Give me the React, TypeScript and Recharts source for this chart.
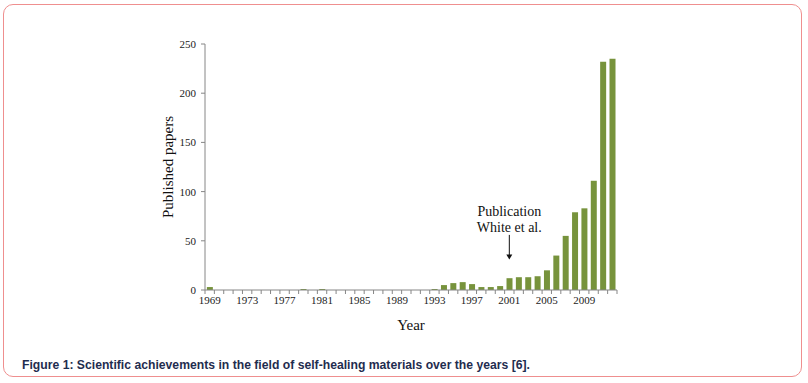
import React from "react";
import { BarChart, Bar, XAxis, YAxis, ReferenceLine } from "recharts";

const years: string[] = [
  "1969", "1970", "1971", "1972", "1973", "1974", "1975", "1976", "1977", "1978",
  "1979", "1980", "1981", "1982", "1983", "1984", "1985", "1986", "1987", "1988",
  "1989", "1990", "1991", "1992", "1993", "1994", "1995", "1996", "1997", "1998",
  "1999", "2000", "2001", "2002", "2003", "2004", "2005", "2006", "2007", "2008",
  "2009", "2010", "2011", "2012",
];

const papers: number[] = [
  3, 0, 0, 0, 0, 0, 0, 0, 0, 0,
  1, 0, 1, 0, 0, 0, 0, 0, 0, 0,
  0, 0, 0, 0, 1, 5, 7, 8, 6, 3,
  3, 4, 12, 13, 13, 14, 20, 35, 55, 79,
  83, 111, 232, 235,
];

const yTicks: number[] = [0, 50, 100, 150, 200, 250];
const labeledYears: string[] = ["1969", "1973", "1977", "1981", "1985", "1989", "1993", "1997", "2001", "2005", "2009"];

const annotationYear = "2001";
const annotationLines: string[] = ["Publication", "White et al."];
const arrowFrom = 56;
const arrowTo = 31;

const data = years.map((y, i) => ({ year: y, papers: papers[i] }));

const CHART_W = 808;
const CHART_H = 383;
const MARGIN = { top: 44, right: 191, bottom: 63, left: 165 };
const Y_AXIS_W = 40;
const PLOT_W = CHART_W - MARGIN.left - MARGIN.right - Y_AXIS_W;
const STEP = PLOT_W / years.length;

const serif = "'Liberation Serif', 'Times New Roman', serif";

const XTick = (props: any) => {
  const { x, y, payload, index } = props;
  const isLast = index === years.length - 1;
  const show = labeledYears.includes(String(payload.value));
  return (
    <g>
      <line x1={x - STEP / 2} y1={y} x2={x - STEP / 2} y2={y + 4} stroke="#868686" strokeWidth={1} />
      {isLast && <line x1={x + STEP / 2} y1={y} x2={x + STEP / 2} y2={y + 4} stroke="#868686" strokeWidth={1} />}
      {show && (
        <text x={x} y={y + 14} textAnchor="middle" fontFamily={serif} fontSize={11} fill="#222">
          {payload.value}
        </text>
      )}
    </g>
  );
};

const ArrowShape = (props: any) => {
  const { x1, y1, x2, y2 } = props;
  const x = x1;
  return (
    <g>
      <text x={x} y={y1 - 19} textAnchor="middle" fontFamily={serif} fontSize={14} fill="#111">
        {annotationLines[0]}
      </text>
      <text x={x} y={y1 - 3} textAnchor="middle" fontFamily={serif} fontSize={14} fill="#111">
        {annotationLines[1]}
      </text>
      <line x1={x} y1={y1} x2={x2} y2={y2 - 4} stroke="#111" strokeWidth={1} />
      <path d={`M${x2 - 3},${y2 - 5} L${x2 + 3},${y2 - 5} L${x2},${y2} Z`} fill="#111" />
    </g>
  );
};

export default function App() {
  return (
    <div style={{ position: "fixed", left: 0, top: 0, width: CHART_W, height: CHART_H, background: "#fff" }}>
      <div
        style={{
          position: "absolute",
          left: 3,
          top: 4,
          width: 797,
          height: 371,
          border: "1.5px solid #ef8f8f",
          borderRadius: 10,
        }}
      />
      <div style={{ position: "absolute", left: 0, top: 0 }}>
        <BarChart width={CHART_W} height={CHART_H} data={data} margin={MARGIN} barCategoryGap="20%">
          <XAxis
            dataKey="year"
            interval={0}
            tickSize={0}
            tickMargin={0}
            tickLine={false}
            axisLine={{ stroke: "#868686", strokeWidth: 1 }}
            tick={<XTick />}
            height={30}
            label={{ value: "Year", position: "insideBottom", offset: -10, fontFamily: serif, fontSize: 15, fill: "#111" }}
          />
          <YAxis
            width={Y_AXIS_W}
            domain={[0, 250]}
            ticks={yTicks}
            tickSize={4}
            tickMargin={5}
            axisLine={{ stroke: "#868686", strokeWidth: 1 }}
            tickLine={{ stroke: "#868686", strokeWidth: 1 }}
            tick={{ fontFamily: serif, fontSize: 11, fill: "#222" }}
            label={{
              value: "Published papers",
              angle: -90,
              position: "insideLeft",
              offset: 3,
              fontFamily: serif,
              fontSize: 15,
              fill: "#111",
              style: { textAnchor: "middle" },
            }}
          />
          <Bar dataKey="papers" fill="#77933C" isAnimationActive={false} />
          <ReferenceLine
            segment={[
              { x: annotationYear, y: arrowFrom },
              { x: annotationYear, y: arrowTo },
            ]}
            shape={<ArrowShape />}
          />
        </BarChart>
      </div>
      <div
        style={{
          position: "absolute",
          left: 22,
          top: 358,
          fontFamily: "'Liberation Sans Narrow', 'Liberation Sans', Arial, sans-serif",
          fontWeight: "bold",
          fontSize: 12.2,
          color: "#1f2d4f",
          whiteSpace: "nowrap",
        }}
      >
        Figure 1: Scientific achievements in the field of self-healing materials over the years [6].
      </div>
    </div>
  );
}
